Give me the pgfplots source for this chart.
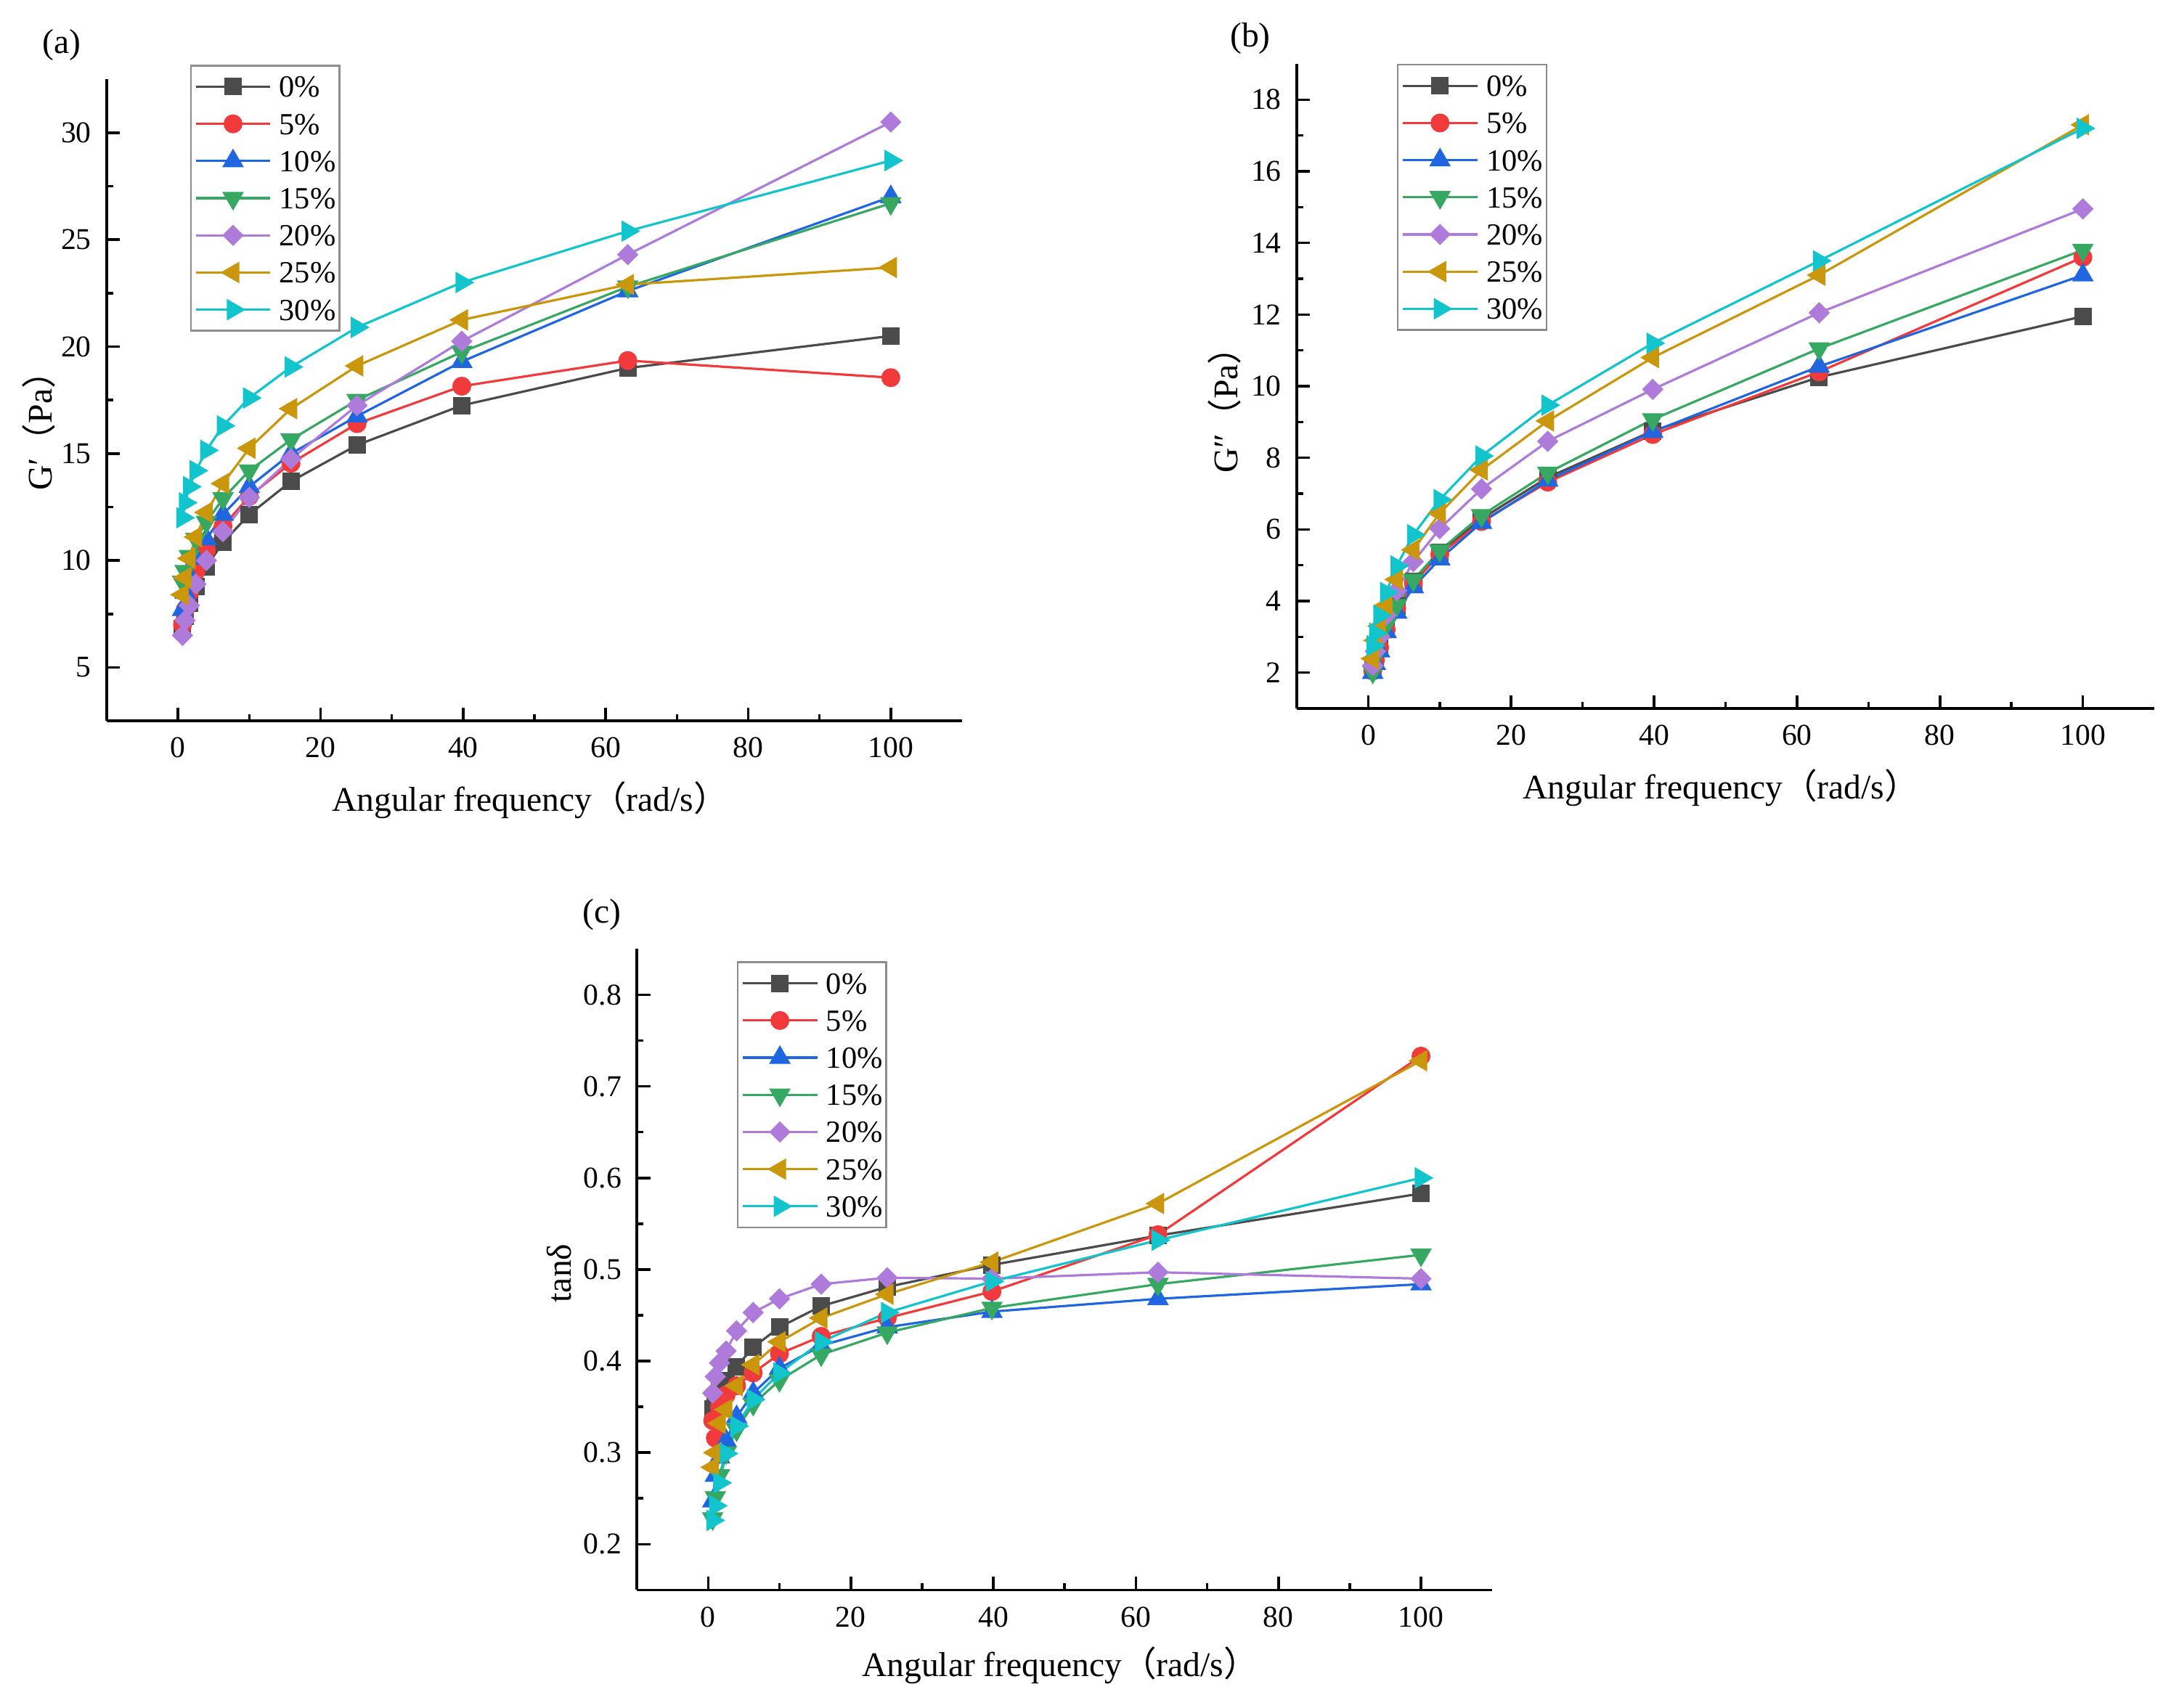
\documentclass[border=0pt]{standalone}
\usepackage{fontspec}
\setmainfont{Liberation Serif}
\newfontfamily\cjk{Noto Sans CJK SC}
\usepackage{pgfplots}
\pgfplotsset{compat=1.18}
\usepackage{pgfplotstable}

\definecolor{c0}{HTML}{4B4B4B}
\definecolor{c5}{HTML}{F03A3B}
\definecolor{c10}{HTML}{1F66E0}
\definecolor{c15}{HTML}{37A862}
\definecolor{c20}{HTML}{AF7BDB}
\definecolor{c25}{HTML}{C9960C}
\definecolor{c30}{HTML}{12C5CC}
\definecolor{legframe}{HTML}{8C8C8C}

\newcommand{\labfont}{\fontsize{11.9}{13}\selectfont}
\newcommand{\tickfont}{\fontsize{10.4}{12}\selectfont}
\newcommand{\legfont}{\fontsize{10.6}{12}\selectfont}

% G' (Pa) data
\pgfplotstableread{
f      s0    s5    s10   s15   s20   s25   s30
0.631  6.8   7.0   7.7   9.0   6.5   8.4   12.0
1.0    7.4   7.7   8.5   9.5   7.2   9.2   12.7
1.585  8.0   8.5   9.3   10.2  7.9   10.1  13.45
2.512  8.8   9.5   10.1  11.0  8.9   11.1  14.2
3.981  9.7   10.5  11.0  11.8  10.0  12.25 15.15
6.31   10.85 11.6  12.15 12.9  11.35 13.6  16.3
10.0   12.15 13.0  13.45 14.2  12.95 15.25 17.6
15.85  13.7  14.55 15.0  15.65 14.75 17.1  19.05
25.12  15.4  16.4  16.75 17.5  17.25 19.1  20.9
39.81  17.25 18.15 19.3  19.75 20.25 21.25 23.0
63.1   19.0  19.35 22.6  22.8  24.3  22.9  25.4
100.0  20.5  18.55 27.0  26.7  30.5  23.7  28.7
}\tabA

% G'' (Pa) data
\pgfplotstableread{
f      s0    s5    s10   s15   s20   s25   s30
0.631  2.1   2.05  2.0   2.02  2.2   2.39  2.75
1.0    2.4   2.35  2.25  2.45  2.6   2.9   3.1
1.585  2.75  2.7   2.6   2.9   3.0   3.3   3.6
2.512  3.25  3.2   3.14  3.34  3.6   3.88  4.24
3.981  3.85  3.8   3.68  3.88  4.29  4.6   4.98
6.31   4.55  4.5   4.39  4.59  5.1   5.43  5.85
10.0   5.35  5.3   5.17  5.41  6.02  6.45  6.83
15.85  6.3   6.22  6.19  6.39  7.13  7.66  8.05
25.12  7.45  7.32  7.37  7.58  8.46  9.03  9.47
39.81  8.75  8.65  8.73  9.07  9.91  10.8  11.2
63.1   10.25 10.4  10.55 11.05 12.05 13.1  13.5
100.0  11.95 13.6  13.1  13.8  14.95 17.3  17.2
}\tabB

% tan delta data
\pgfplotstableread{
f      s0    s5    s10   s15   s20   s25   s30
0.631  0.348 0.335 0.247 0.228 0.365 0.284 0.226
1.0    0.358 0.316 0.275 0.251 0.383 0.300 0.242
1.585  0.368 0.350 0.295 0.275 0.398 0.332 0.267
2.512  0.379 0.363 0.313 0.300 0.411 0.347 0.299
3.981  0.394 0.373 0.339 0.325 0.433 0.373 0.329
6.31   0.415 0.387 0.365 0.353 0.453 0.396 0.358
10.0   0.437 0.408 0.392 0.379 0.468 0.421 0.387
15.85  0.460 0.427 0.417 0.407 0.484 0.447 0.421
25.12  0.481 0.447 0.437 0.431 0.491 0.473 0.453
39.81  0.505 0.476 0.454 0.458 0.490 0.508 0.487
63.1   0.537 0.538 0.468 0.484 0.497 0.572 0.532
100.0  0.583 0.733 0.484 0.516 0.490 0.728 0.600
}\tabC

\pgfplotsset{
  base/.style={
    scale only axis,
    anchor=south west,
    axis x line*=bottom, axis y line*=left,
    axis line style={-, line width=0.95pt, black},
    tick align=inside,
    major tick length=4.6pt, minor tick length=2.3pt,
    tick style={black, line width=0.9pt},
    xmin=-10, xmax=110, xtick={0,20,40,60,80,100}, minor x tick num=1,
    minor y tick num=1,
    ticklabel style={font=\tickfont},
    /pgf/number format/assume math mode=true,
    xticklabel style={yshift=-2.2pt},
    yticklabel style={xshift=-1.8pt},
    legend cell align=left,
    legend style={draw=legframe, line width=0.6pt, fill=white,
      inner xsep=1.25pt, inner ysep=0.85pt, row sep=0pt,
      font=\legfont,
      nodes={inner sep=0pt, text height=10pt, text depth=2.8pt},
      /tikz/every odd column/.style={column sep=2.7pt},
      anchor=north west},
    legend image code/.code={%
      \draw[mark repeat=2,mark phase=2,##1] plot coordinates {(0pt,0pt) (12.85pt,0pt) (25.7pt,0pt)};},
  },
  p0/.style={color=c0, line width=0.8pt, mark=square*, mark size=2.6pt, mark options={solid}},
  p5/.style={color=c5, line width=0.8pt, mark=*, mark size=2.85pt, mark options={solid}},
  p10/.style={color=c10, line width=0.8pt, mark=triangle*, mark size=3.5pt, mark options={solid}},
  p15/.style={color=c15, line width=0.8pt, mark=triangle*, mark size=3.5pt, mark options={solid, rotate=180}},
  p20/.style={color=c20, line width=0.8pt, mark=square*, mark size=2.2pt, mark options={solid, rotate=45}},
  p25/.style={color=c25, line width=0.8pt, mark=triangle*, mark size=3.5pt, mark options={solid, rotate=90}},
  p30/.style={color=c30, line width=0.8pt, mark=triangle*, mark size=3.5pt, mark options={solid, rotate=-90}},
}

\begin{document}
\begin{tikzpicture}
\useasboundingbox (0pt,0pt) rectangle (747.5pt,-588.25pt);

% ---------- (a) ----------
\begin{axis}[base, at={(36.75pt,-248.3pt)}, width=294.5pt, height=221pt,
  ymin=2.5, ymax=32.5, ytick={5,10,15,20,25,30},
  legend style={at={(0.0974,1.0226)}}]
\addplot[p0]  table[x=f,y=s0]  {\tabA};
\addplot[p5]  table[x=f,y=s5]  {\tabA};
\addplot[p10] table[x=f,y=s10] {\tabA};
\addplot[p15] table[x=f,y=s15] {\tabA};
\addplot[p20] table[x=f,y=s20] {\tabA};
\addplot[p25] table[x=f,y=s25] {\tabA};
\addplot[p30] table[x=f,y=s30] {\tabA};
\legend{0\%,5\%,10\%,15\%,20\%,25\%,30\%}
\end{axis}

% ---------- (b) ----------
\begin{axis}[base, at={(446.5pt,-244pt)}, width=295.25pt, height=222pt,
  ymin=1, ymax=19, ytick={2,4,6,8,10,12,14,16,18},
  legend style={at={(0.1169,1.0)}}]
\addplot[p0]  table[x=f,y=s0]  {\tabB};
\addplot[p5]  table[x=f,y=s5]  {\tabB};
\addplot[p10] table[x=f,y=s10] {\tabB};
\addplot[p15] table[x=f,y=s15] {\tabB};
\addplot[p20] table[x=f,y=s20] {\tabB};
\addplot[p25] table[x=f,y=s25] {\tabB};
\addplot[p30] table[x=f,y=s30] {\tabB};
\legend{0\%,5\%,10\%,15\%,20\%,25\%,30\%}
\end{axis}

% ---------- (c) ----------
\begin{axis}[base, at={(219.3pt,-547.6pt)}, width=294.5pt, height=220.75pt,
  ymin=0.15, ymax=0.85, ytick={0.2,0.3,0.4,0.5,0.6,0.7,0.8},
  yticklabel style={/pgf/number format/fixed, /pgf/number format/precision=1},
  legend style={at={(0.1169,0.9807)}}]
\addplot[p0]  table[x=f,y=s0]  {\tabC};
\addplot[p5]  table[x=f,y=s5]  {\tabC};
\addplot[p10] table[x=f,y=s10] {\tabC};
\addplot[p15] table[x=f,y=s15] {\tabC};
\addplot[p20] table[x=f,y=s20] {\tabC};
\addplot[p25] table[x=f,y=s25] {\tabC};
\addplot[p30] table[x=f,y=s30] {\tabC};
\legend{0\%,5\%,10\%,15\%,20\%,25\%,30\%}
\end{axis}

% ---------- labels ----------
\node[font=\labfont] at (21.25pt,-15.5pt) {(a)};
\node[font=\labfont] at (430.5pt,-13.25pt) {(b)};
\node[font=\labfont] at (207.25pt,-315pt) {(c)};

\node[font=\labfont, rotate=90] at (13.25pt,-145.5pt) {G′{\cjk （}Pa{\cjk ）}};
\node[font=\labfont, rotate=90] at (421.5pt,-138.25pt) {G″{\cjk （}Pa{\cjk ）}};
\node[font=\labfont, rotate=90] at (192.5pt,-438.5pt) {tanδ};

\node[font=\labfont] at (182.5pt,-275.5pt) {Angular frequency{\cjk （}rad/s{\cjk ）}};
\node[font=\labfont] at (592.5pt,-271.25pt) {Angular frequency{\cjk （}rad/s{\cjk ）}};
\node[font=\labfont] at (365pt,-573.5pt) {Angular frequency{\cjk （}rad/s{\cjk ）}};
\end{tikzpicture}
\end{document}
